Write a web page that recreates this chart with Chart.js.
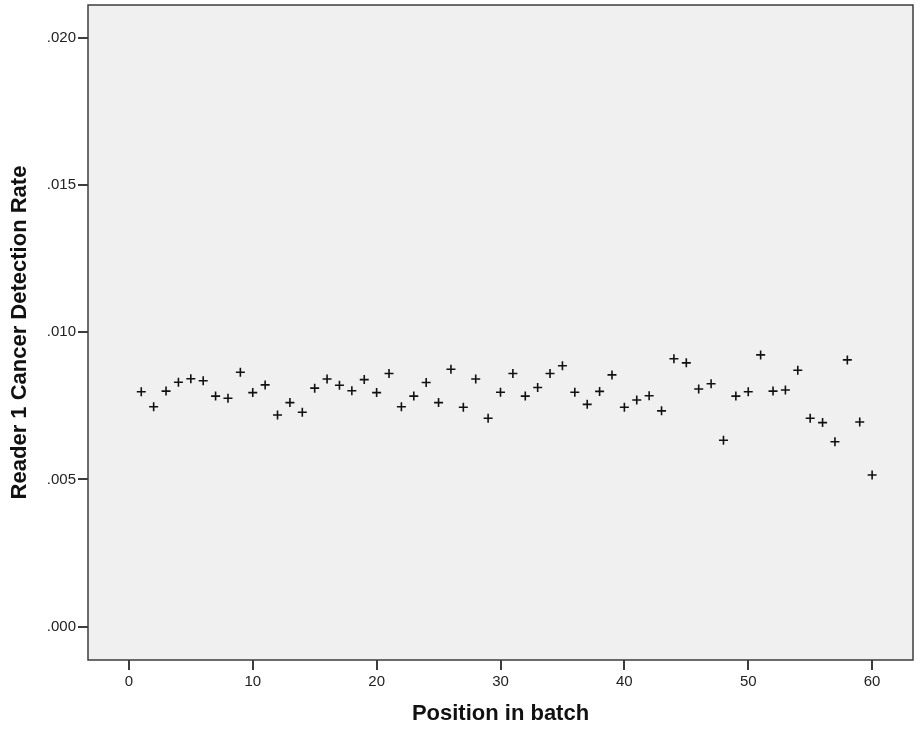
<!DOCTYPE html>
<html>
<head>
<meta charset="utf-8">
<title>Reader 1 Cancer Detection Rate by position in batch</title>
<script src="https://cdn.jsdelivr.net/npm/chart.js@4.4.1/dist/chart.umd.min.js"></script>
<style>
    html, body { margin: 0; padding: 0; background: #ffffff; }
    #chart-wrap { position: relative; width: 915px; height: 731px; }
</style>
</head>
<body>
<div id="chart-wrap"><canvas id="rate-chart"></canvas></div>
<script>
// Position of each reading in the batch
const positions = [
    1, 2, 3, 4, 5, 6, 7, 8, 9, 10,
    11, 12, 13, 14, 15, 16, 17, 18, 19, 20,
    21, 22, 23, 24, 25, 26, 27, 28, 29, 30,
    31, 32, 33, 34, 35, 36, 37, 38, 39, 40,
    41, 42, 43, 44, 45, 46, 47, 48, 49, 50,
    51, 52, 53, 54, 55, 56, 57, 58, 59, 60
];

// Reader 1 cancer detection rate
const detectionRate = [
    0.00798, 0.00747, 0.00800, 0.00830, 0.00842, 0.00835, 0.00783, 0.00776, 0.00864, 0.00795,
    0.00821, 0.00719, 0.00761, 0.00728, 0.00810, 0.00841, 0.00820, 0.00801, 0.00839, 0.00795,
    0.00860, 0.00747, 0.00783, 0.00829, 0.00761, 0.00874, 0.00745, 0.00841, 0.00708, 0.00796,
    0.00860, 0.00783, 0.00812, 0.00860, 0.00886, 0.00796, 0.00755, 0.00799, 0.00855, 0.00745,
    0.00770, 0.00784, 0.00733, 0.00910, 0.00896, 0.00807, 0.00825, 0.00633, 0.00783, 0.00798,
    0.00923, 0.00800, 0.00804, 0.00871, 0.00708, 0.00693, 0.00628, 0.00906, 0.00695, 0.00515
];

// Tick values
const xTickValues = [0, 10, 20, 30, 40, 50, 60];
const yTickValues = [0, 0.005, 0.010, 0.015, 0.020];

const axisColor = '#3c3c3c';
const plotBackground = '#f0f0f0';

/**
 * Format a rate like SPSS does: .005 (no leading zero)
 */
function formatRate(value) {
    return value.toFixed(3).replace(/^0/, '');
}

// Fill the plot area and draw the frame around it
const plotFrame = {
    id: 'plotFrame',
    beforeDraw(chart) {
        const { ctx, chartArea } = chart;
        ctx.save();
        ctx.fillStyle = plotBackground;
        ctx.fillRect(chartArea.left, chartArea.top, chartArea.width, chartArea.height);
        ctx.restore();
    },
    afterDraw(chart) {
        const { ctx, chartArea } = chart;
        ctx.save();
        ctx.strokeStyle = axisColor;
        ctx.lineWidth = 1.5;
        ctx.strokeRect(chartArea.left, chartArea.top, chartArea.width, chartArea.height);
        ctx.restore();
    }
};

const points = positions.map((pos, i) => ({ x: pos, y: detectionRate[i] }));

new Chart(document.getElementById('rate-chart'), {
    type: 'scatter',
    data: {
        datasets: [{
            label: 'Reader 1 Cancer Detection Rate',
            data: points,
            pointStyle: 'cross',
            pointRadius: 4.5,
            pointHoverRadius: 4.5,
            borderColor: '#111111',
            backgroundColor: '#111111',
            pointBorderWidth: 1.6
        }]
    },
    options: {
        responsive: true,
        maintainAspectRatio: false,
        animation: false,
        layout: {
            autoPadding: false,
            padding: { top: 5, right: 2, left: 0, bottom: 0 }
        },
        plugins: {
            legend: { display: false },
            tooltip: { enabled: false }
        },
        scales: {
            x: {
                type: 'linear',
                min: -3.3,
                max: 63.3,
                afterBuildTicks: scale => {
                    scale.ticks = xTickValues.map(v => ({ value: v }));
                },
                afterFit: scale => {
                    scale.height = 71;
                    scale.paddingLeft = 0;
                    scale.paddingRight = 0;
                },
                grid: {
                    drawOnChartArea: false,
                    color: axisColor,
                    lineWidth: 2,
                    tickLength: 10
                },
                border: { display: false },
                ticks: {
                    padding: 3,
                    color: '#222222',
                    font: { family: '"Liberation Sans", Arial, sans-serif', size: 15 },
                    callback: value => String(value)
                },
                title: {
                    display: true,
                    text: 'Position in batch',
                    color: '#111111',
                    padding: { top: 0, bottom: 4 },
                    font: { family: '"Liberation Sans", Arial, sans-serif', size: 22, weight: 'bold' }
                }
            },
            y: {
                type: 'linear',
                min: -0.00113,
                max: 0.02111,
                afterBuildTicks: scale => {
                    scale.ticks = yTickValues.map(v => ({ value: v }));
                },
                afterFit: scale => {
                    scale.width = 88;
                    scale.paddingTop = 0;
                    scale.paddingBottom = 0;
                },
                grid: {
                    drawOnChartArea: false,
                    color: axisColor,
                    lineWidth: 2,
                    tickLength: 10
                },
                border: { display: false },
                ticks: {
                    padding: 2,
                    color: '#222222',
                    font: { family: '"Liberation Sans", Arial, sans-serif', size: 15 },
                    callback: value => formatRate(value)
                },
                title: {
                    display: true,
                    text: 'Reader 1 Cancer Detection Rate',
                    color: '#111111',
                    padding: { top: 7, bottom: 0 },
                    font: { family: '"Liberation Sans", Arial, sans-serif', size: 22, weight: 'bold' }
                }
            }
        }
    },
    plugins: [plotFrame]
});
</script>
</body>
</html>
